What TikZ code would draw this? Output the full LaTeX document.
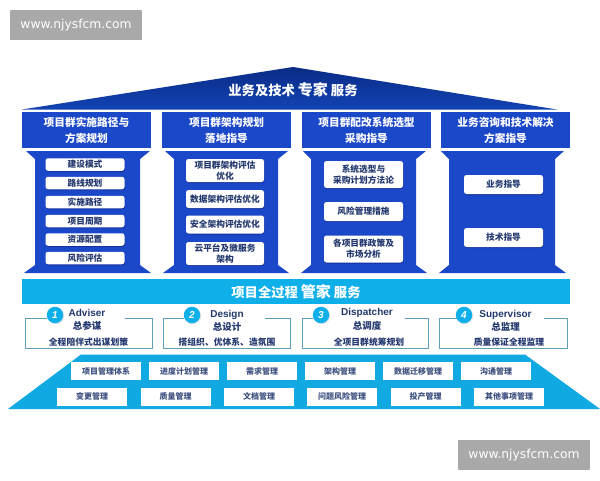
\documentclass[tikz,border=0pt]{standalone}
\usepackage{fontspec}
\setmainfont{Noto Sans CJK SC}
\newfontfamily\latinfont{Liberation Sans}
\newfontfamily\markfont{DejaVu Sans}
\usepackage{tikz}
\usetikzlibrary{shadows}
\definecolor{fond}{HTML}{1B48C8}
\definecolor{roofdark}{HTML}{0A2C86}
\definecolor{roofmid}{HTML}{1243B4}
\definecolor{pale}{HTML}{0FB0EA}
\definecolor{base}{HTML}{10A9E2}
\definecolor{ink}{HTML}{23386E}
\definecolor{cardline}{HTML}{5F9DB8}
\definecolor{markgray}{HTML}{A9A9A9}

\begin{document}
\begin{tikzpicture}[
    x=1pt, y=-1pt,
    every node/.style={inner sep=0pt, outer sep=0pt, align=center},
    softshadow/.style={drop shadow={shadow xshift=0.5pt, shadow yshift=-1pt, opacity=0.35, fill=black!70!blue}},
    markbox/.style={fill=markgray, text=white, font=\markfont\fontsize{12.3}{14}\selectfont},
    headbox/.style={fill=fond, text=white, font=\bfseries\fontsize{10.7}{16}\selectfont},
    itembox/.style={fill=white, rounded corners=2.5pt, softshadow, text=ink, font=\bfseries\fontsize{8.7}{10.8}\selectfont},
    rowbox/.style={fill=white, text=ink!88, minimum width=70pt, minimum height=18pt, font=\bfseries\fontsize{8}{10}\selectfont},
    cardline/.style={draw=cardline, line width=0.9pt},
    badge/.style={circle, fill=pale, text=white, minimum size=16.5pt, drop shadow={shadow xshift=1pt, shadow yshift=-1pt, opacity=0.2}, font=\latinfont\itshape\bfseries\fontsize{10}{12}\selectfont},
    cardtitle/.style={text=ink, font=\latinfont\bfseries\fontsize{10}{12}\selectfont},
    cardtext/.style={text=ink, font=\bfseries\fontsize{8.8}{11}\selectfont}
    ]
    \useasboundingbox (0,0) rectangle (600,480);
    \fill[white] (0,0) rectangle (600,480);

    % watermarks
    \node[markbox, minimum width=132pt, minimum height=30pt] (marktop) at (76,25) {www.njysfcm.com};
    \node[markbox, minimum width=132pt, minimum height=30pt] (markbot) at (524,455) {www.njysfcm.com};

    % roof
    \shade[top color=roofdark, bottom color=roofmid] (22,109.5) -- (293,67) -- (557,109.5) -- cycle;
    \node[text=white, font=\bfseries\fontsize{13.3}{16}\selectfont] (rooftext) at (293,90)
        {业务及技术 {\fontsize{15}{16}\selectfont 专家} 服务};

    % pillars
    \foreach \name/\xa/\xb/\xc/\xd/\xe/\xf in {one/26/35/140/150/24/151, two/165/174/278/288/163/289, three/303/311/416/426/301/427, four/441/449/555/564/439/566}
        \fill[fond] (\xa,151) -- (\xd,151) -- (\xc,159) -- (\xc,265) -- (\xf,273) -- (\xe,273) -- (\xb,265) -- (\xb,159) -- cycle;

    % headers
    \node[headbox, minimum width=129pt, minimum height=36pt] (headone) at (86.5,130) {项目群实施路径与\\方案规划};
    \node[headbox, minimum width=129pt, minimum height=36pt] (headtwo) at (226.5,130) {项目群架构规划\\落地指导};
    \node[headbox, minimum width=129pt, minimum height=36pt] (headthree) at (366.5,130) {项目群配改系统选型\\采购指导};
    \node[headbox, minimum width=129pt, minimum height=36pt] (headfour) at (505.5,130) {业务咨询和技术解决\\方案指导};

    % column one
    \foreach \name/\y/\txt in {a/164.5/建设模式, b/183/路线规划, c/202/实施路径, d/221/项目周期, e/239.5/资源配置, f/258/风险评估}
        \node[itembox, minimum width=79pt, minimum height=12.5pt] (one\name) at (85,\y) {\txt};

    % column two
    \node[itembox, minimum width=78pt, minimum height=23pt] (twoa) at (225,170.5) {项目群架构评估\\优化};
    \node[itembox, minimum width=78pt, minimum height=18pt] (twob) at (225,199) {数据架构评估优化};
    \node[itembox, minimum width=78pt, minimum height=18pt] (twoc) at (225,224.5) {安全架构评估优化};
    \node[itembox, minimum width=78pt, minimum height=23pt] (twod) at (225,253.5) {云平台及微服务\\架构};

    % column three
    \node[itembox, minimum width=79pt, minimum height=27pt] (threea) at (363.5,174.5) {系统选型与\\采购计划方法论};
    \node[itembox, minimum width=79pt, minimum height=19pt] (threeb) at (363.5,211.5) {风险管理措施};
    \node[itembox, minimum width=79pt, minimum height=27pt] (threec) at (363.5,249) {各项目群政策及\\市场分析};

    % column four
    \node[itembox, minimum width=79pt, minimum height=19pt] (foura) at (503.5,184.5) {业务指导};
    \node[itembox, minimum width=79pt, minimum height=19pt] (fourb) at (503.5,237.5) {技术指导};

    % full process bar
    \node[fill=pale, text=white, minimum width=548pt, minimum height=25pt, font=\bfseries\fontsize{13.3}{16}\selectfont] (bar) at (296,291.5)
        {项目全过程 {\fontsize{15}{16}\selectfont 管家} 服务};

    % cards
    \draw[cardline] (47,318) -- (25,318) -- (25,348) -- (152,348) -- (152,318) -- (125,318);
    \draw[cardline] (184,318) -- (163,318) -- (163,348) -- (290,348) -- (290,318) -- (265,318);
    \draw[cardline] (313,318) -- (302,318) -- (302,348) -- (428,348) -- (428,318) -- (405,318);
    \draw[cardline] (457,318) -- (439,318) -- (439,348) -- (567,348) -- (567,318) -- (544,318);

    \node[badge] (badgeone) at (55,315) {1};
    \node[badge] (badgetwo) at (192,315) {2};
    \node[badge] (badgethree) at (321,315) {3};
    \node[badge] (badgefour) at (464,315) {4};

    \node[cardtitle] (titleone) at (87,313) {Adviser};
    \node[cardtitle] (titletwo) at (227,315) {Design};
    \node[cardtitle] (titlethree) at (367,313) {Dispatcher};
    \node[cardtitle] (titlefour) at (505.5,315) {Supervisor};

    \node[cardtitle, font=\bfseries\fontsize{9.5}{11}\selectfont] (roleone) at (87,325.5) {总参谋};
    \node[cardtitle, font=\bfseries\fontsize{9.5}{11}\selectfont] (roletwo) at (227,327) {总设计};
    \node[cardtitle, font=\bfseries\fontsize{9.5}{11}\selectfont] (rolethree) at (367,325.5) {总调度};
    \node[cardtitle, font=\bfseries\fontsize{9.5}{11}\selectfont] (rolefour) at (505.5,327) {总监理};

    \node[cardtext] (textone) at (88.5,342) {全程陪伴式出谋划策};
    \node[cardtext] (texttwo) at (227,342) {搭组织、优体系、造氛围};
    \node[cardtext] (textthree) at (369,342) {全项目群统筹规划};
    \node[cardtext] (textfour) at (509,342) {质量保证全程监理};

    % base
    \fill[base] (81,354.5) -- (525,354.5) -- (600,409) -- (8,409) -- cycle;
    \foreach \name/\x/\txt in {a/106/项目管理体系, b/184/进度计划管理, c/262/需求管理, d/340/架构管理, e/418/数据迁移管理, f/496/沟通管理}
        \node[rowbox] (top\name) at (\x,371) {\txt};
    \foreach \name/\x/\txt in {a/92/变更管理, b/175.5/质量管理, c/259/文档管理, d/342/问题风险管理, e/425.5/投产管理, f/509/其他事项管理}
        \node[rowbox] (low\name) at (\x,396.5) {\txt};
\end{tikzpicture}
\end{document}
